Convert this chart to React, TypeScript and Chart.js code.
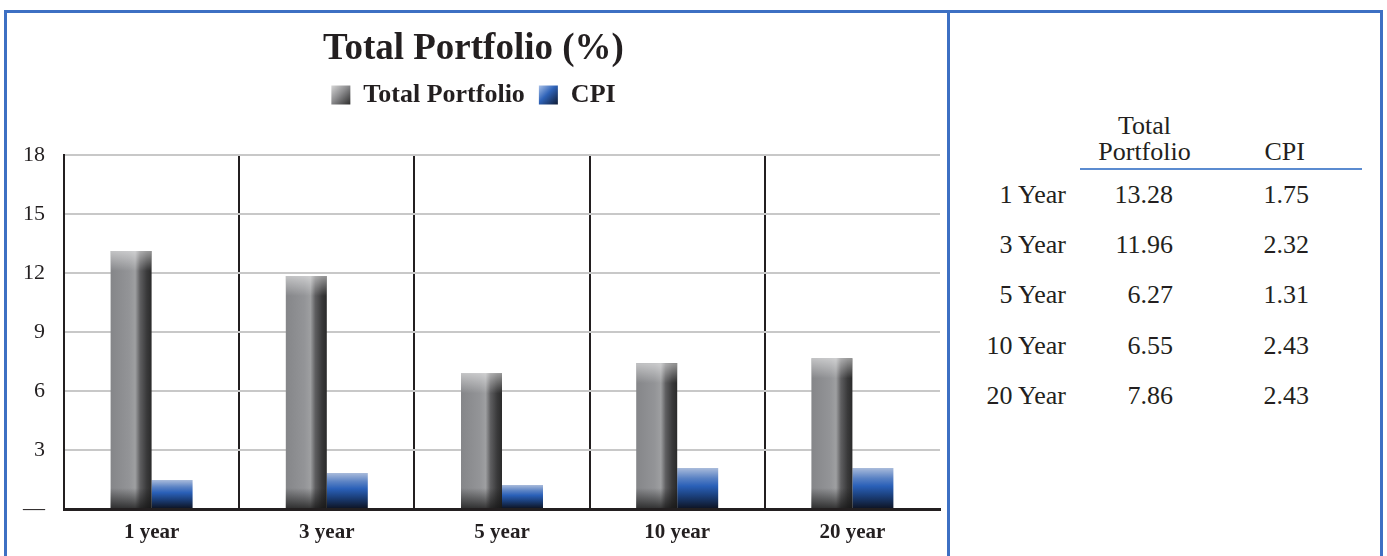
import React, { useEffect, useRef } from 'react';
import { Chart, registerables } from 'chart.js';

Chart.register(...registerables);

const categories = ['1 year', '3 year', '5 year', '10 year', '20 year'];
const totalPortfolio = [13.12, 11.85, 6.9, 7.42, 7.66];
const cpi = [1.47, 1.83, 1.22, 2.08, 2.08];
const yTicks = [0, 3, 6, 9, 12, 15, 18];
const seriesNames = ['Total Portfolio', 'CPI'];
const chartTitle = 'Total Portfolio (%)';

const tableRowLabels = ['1 Year', '3 Year', '5 Year', '10 Year', '20 Year'];
const tableTotal = ['13.28', '11.96', '6.27', '6.55', '7.86'];
const tableCpi = ['1.75', '2.32', '1.31', '2.43', '2.43'];

const SERIF = "'Liberation Serif', 'Times New Roman', serif";
const INK = '#231f20';
const BLUE_LINE = '#3d70c3';
const LEGEND_FONT = 26;
const LEGEND_BOX = 19;

const shadePlugin = {
  id: 'shade',
  beforeDraw(chart: any) {
    const legend = chart.legend;
    if (!legend || !legend.legendHitBoxes || !legend.legendItems) return;
    const ctx = chart.ctx;
    legend.legendItems.forEach((item: any, i: number) => {
      const hb = legend.legendHitBoxes[i];
      if (!hb) return;
      const x0 = hb.left;
      const y0 = hb.top + Math.max((LEGEND_FONT - LEGEND_BOX) / 2, 0);
      const g = ctx.createLinearGradient(x0, y0, x0 + LEGEND_BOX, y0 + LEGEND_BOX);
      if (item.datasetIndex === 0) {
        g.addColorStop(0, '#d6d6d6');
        g.addColorStop(0.45, '#8e8e90');
        g.addColorStop(1, '#2c2c2c');
      } else {
        g.addColorStop(0, '#a8c0e8');
        g.addColorStop(0.45, '#2f63b8');
        g.addColorStop(1, '#0e1a33');
      }
      item.fillStyle = g;
    });
  },
  beforeDatasetsDraw(chart: any) {
    const ctx = chart.ctx;
    chart.data.datasets.forEach((_: any, di: number) => {
      const meta = chart.getDatasetMeta(di);
      meta.data.forEach((el: any) => {
        const { x, y, base, width } = el.getProps(['x', 'y', 'base', 'width'], true);
        const left = x - width / 2;
        const right = x + width / 2;
        let g;
        if (di === 0) {
          g = ctx.createLinearGradient(left, 0, right, 0);
          g.addColorStop(0, '#858689');
          g.addColorStop(0.45, '#939497');
          g.addColorStop(0.6, '#9e9fa1');
          g.addColorStop(0.72, '#5e5e60');
          g.addColorStop(0.88, '#3a3a3b');
          g.addColorStop(1, '#2a2a2a');
        } else {
          g = ctx.createLinearGradient(0, y, 0, base);
          g.addColorStop(0, '#a9bbdb');
          g.addColorStop(0.25, '#5a82c4');
          g.addColorStop(0.45, '#2a60b8');
          g.addColorStop(0.7, '#1b3f7a');
          g.addColorStop(1, '#0e1628');
        }
        el.options = Object.assign({}, el.options, { backgroundColor: g });
      });
    });
  },
  afterDatasetsDraw(chart: any) {
    const ctx = chart.ctx;
    const meta = chart.getDatasetMeta(0);
    ctx.save();
    meta.data.forEach((el: any) => {
      const { x, y, base, width } = el.getProps(['x', 'y', 'base', 'width'], true);
      const left = x - width / 2;
      const hi = ctx.createLinearGradient(0, y, 0, y + 20);
      hi.addColorStop(0, 'rgba(255,255,255,0.5)');
      hi.addColorStop(1, 'rgba(255,255,255,0)');
      ctx.fillStyle = hi;
      ctx.fillRect(left, y, width, 20);
      const sh = ctx.createLinearGradient(0, base - 20, 0, base);
      sh.addColorStop(0, 'rgba(20,20,20,0)');
      sh.addColorStop(1, 'rgba(20,20,20,0.75)');
      ctx.fillStyle = sh;
      ctx.fillRect(left, base - 20, width, 20);
    });
    ctx.restore();
  },
};

export default function App() {
  const canvasRef = useRef<HTMLCanvasElement | null>(null);

  useEffect(() => {
    if (!canvasRef.current) return;
    const chart = new Chart(canvasRef.current, {
      type: 'bar',
      data: {
        labels: categories,
        datasets: [
          {
            label: seriesNames[0],
            data: totalPortfolio,
            backgroundColor: '#8c8d90',
            borderWidth: 0,
            categoryPercentage: 0.468,
            barPercentage: 1,
          },
          {
            label: seriesNames[1],
            data: cpi,
            backgroundColor: '#2a5fb5',
            borderWidth: 0,
            categoryPercentage: 0.468,
            barPercentage: 1,
          },
        ],
      },
      options: {
        responsive: false,
        animation: false,
        devicePixelRatio: 1,
        layout: { padding: { left: 0, right: 7, top: 0, bottom: 0 } },
        plugins: {
          title: {
            display: true,
            text: chartTitle,
            color: INK,
            weight: 2000,
            font: { family: SERIF, size: 37, weight: 'bold', lineHeight: 1 },
            padding: { top: 18, bottom: 0 },
          },
          legend: {
            display: true,
            position: 'top',
            weight: 1800,
            labels: {
              color: INK,
              boxWidth: LEGEND_BOX,
              boxHeight: LEGEND_BOX,
              padding: 14,
              font: { family: SERIF, size: LEGEND_FONT, weight: 'bold' },
            },
          },
          subtitle: {
            display: true,
            text: '',
            weight: 1500,
            font: { size: 1, lineHeight: 1 },
            padding: { top: 0, bottom: 36 },
          },
          tooltip: { enabled: false },
        },
        scales: {
          x: {
            offset: true,
            grid: {
              display: true,
              drawTicks: false,
              lineWidth: 2,
              color: (c: any) => (c.type === 'tick' ? INK : 'rgba(0,0,0,0)'),
            },
            border: { display: true, color: INK, width: 3 },
            ticks: {
              color: INK,
              padding: 11,
              font: { family: SERIF, size: 21, weight: 'bold' },
            },
            afterFit: (scale: any) => {
              scale.height = 47;
            },
          },
          y: {
            min: 0,
            max: 18,
            grid: { color: '#c8c8c8', lineWidth: 2, drawTicks: false },
            border: { display: true, color: INK, width: 2 },
            afterBuildTicks: (scale: any) => {
              scale.ticks = yTicks.map((v) => ({ value: v }));
            },
            ticks: {
              color: INK,
              padding: 19,
              font: { family: SERIF, size: 22 },
              callback: (v: any) => (Number(v) === 0 ? '—' : String(v)),
            },
            afterFit: (scale: any) => {
              scale.width = 57;
            },
          },
        },
      },
      plugins: [shadePlugin],
    } as any);
    return () => chart.destroy();
  }, []);

  const textBase: React.CSSProperties = {
    position: 'absolute',
    fontFamily: SERIF,
    fontSize: 26,
    lineHeight: '26px',
    color: INK,
    whiteSpace: 'nowrap',
  };

  return (
    <div
      style={{
        position: 'absolute',
        left: 0,
        top: 0,
        width: 1387,
        height: 556,
        overflow: 'hidden',
        background: '#ffffff',
      }}
    >
      <div
        style={{
          position: 'absolute',
          left: 4,
          top: 10,
          width: 1379,
          height: 560,
          boxSizing: 'border-box',
          borderTop: `3px solid ${BLUE_LINE}`,
          borderLeft: `3px solid ${BLUE_LINE}`,
          borderRight: `3px solid ${BLUE_LINE}`,
        }}
      />
      <div
        style={{
          position: 'absolute',
          left: 947,
          top: 10,
          width: 3,
          height: 560,
          background: BLUE_LINE,
        }}
      />
      <canvas
        ref={canvasRef}
        width={940}
        height={543}
        style={{ position: 'absolute', left: 7, top: 13, width: 940, height: 543 }}
      />
      <div style={{ ...textBase, left: 1094, top: 113, width: 101, textAlign: 'center' }}>
        Total
        <br />
        Portfolio
      </div>
      <div style={{ ...textBase, right: 82, top: 139, textAlign: 'right' }}>CPI</div>
      <div
        style={{
          position: 'absolute',
          left: 1080,
          top: 168,
          width: 282,
          height: 2,
          background: '#5b8bd0',
        }}
      />
      {tableRowLabels.map((lab, i) => (
        <React.Fragment key={lab}>
          <div style={{ ...textBase, right: 321, top: 181.5 + i * 50.4, textAlign: 'right' }}>{lab}</div>
          <div style={{ ...textBase, right: 214, top: 181.5 + i * 50.4, textAlign: 'right' }}>
            {tableTotal[i]}
          </div>
          <div style={{ ...textBase, right: 78, top: 181.5 + i * 50.4, textAlign: 'right' }}>
            {tableCpi[i]}
          </div>
        </React.Fragment>
      ))}
    </div>
  );
}
